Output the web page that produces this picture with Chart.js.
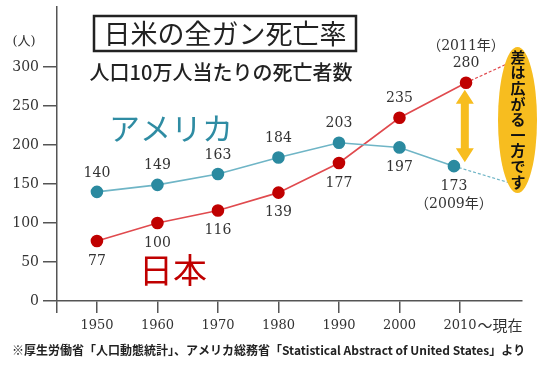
<!DOCTYPE html>
<html><head><meta charset="utf-8">
<script src="https://cdn.jsdelivr.net/npm/chart.js@4/dist/chart.umd.min.js"></script>
<style>html,body{margin:0;padding:0;background:#fff;}#wrap{width:548px;height:370px;position:relative;}</style>
</head><body><div id="wrap"><canvas id="c" width="548" height="370"></canvas></div>
<script>
// ---- data ----
const tickYears = [1950, 1960, 1970, 1980, 1990, 2000, 2010];
const yTickValues = [0, 50, 100, 150, 200, 250, 300];
const usYears = [1950, 1960, 1970, 1980, 1990, 2000, 2009];
const usValues = [140, 149, 163, 184, 203, 197, 173];
const usLabelSide = ['up', 'up', 'up', 'up', 'up', 'down', 'down'];
const jpYears = [1950, 1960, 1970, 1980, 1990, 2000, 2011];
const jpValues = [77, 100, 116, 139, 177, 235, 280];
const jpLabelSide = ['down', 'down', 'down', 'down', 'down', 'up', 'up'];
const usTrendYears = [2009, 2018];
const usTrendValues = [173, 152];
const jpTrendYears = [2011, 2018];
const jpTrendValues = [280, 305];
const usNote = '（2009年）';
const jpNote = '（2011年）';

const SERIF = '"DejaVu Serif", "Noto Sans CJK JP", serif';
const SANS = '"Noto Sans CJK JP", "Noto Sans", sans-serif';
const US_LINE = '#6fb5c6', US_PT = '#2b8aa0';
const JP_LINE = '#e04a4e', JP_PT = '#c00000';
const GOLD = '#f7bd1f';

const pts = (xs, ys) => xs.map((x, i) => ({ x: x, y: ys[i] }));

const annot = {
  id: 'annot',
  afterDatasetsDraw(chart) {
    const ctx = chart.ctx;
    const xs = chart.scales.x, ys = chart.scales.y;
    ctx.save();
    // data labels
    ctx.textAlign = 'center';
    ctx.textBaseline = 'middle';
    ctx.fillStyle = '#333';
    ctx.font = '14px ' + SERIF;
    const drawLabels = (dsIndex, vals, sides) => {
      const meta = chart.getDatasetMeta(dsIndex);
      meta.data.forEach((p, i) => {
        const dy = sides[i] === 'up' ? -19 : 20;
        ctx.fillText(String(vals[i]), p.x, p.y + dy);
      });
      return meta;
    };
    const mUS = drawLabels(0, usValues, usLabelSide);
    const mJP = drawLabels(1, jpValues, jpLabelSide);
    ctx.font = '14px ' + SERIF;
    const lu = mUS.data[mUS.data.length - 1];
    ctx.fillText(usNote, lu.x, lu.y + 38);
    const lj = mJP.data[mJP.data.length - 1];
    ctx.fillText(jpNote, lj.x, lj.y - 36);

    // x label suffix
    ctx.font = '13px ' + SERIF;
    const w2010 = ctx.measureText('2010').width;
    ctx.textAlign = 'left';
    ctx.fillStyle = '#333';
    ctx.font = '15px ' + SANS;
    ctx.fillText('〜現在', xs.getPixelForValue(2010) + w2010 / 2 + 1, 325);

    // y axis unit
    ctx.textAlign = 'center';
    ctx.font = '13px ' + SERIF;
    ctx.fillText('(人)', 24, 42);

    // ellipse
    ctx.fillStyle = GOLD;
    ctx.beginPath();
    ctx.ellipse(517.5, 120, 19.5, 73, 0, 0, Math.PI * 2);
    ctx.fill();
    ctx.fillStyle = '#111';
    ctx.font = 'bold 15px ' + SANS;
    const vt = '差は広がる一方です';
    for (let i = 0; i < vt.length; i++) ctx.fillText(vt[i], 518, 57 + i * 15.6);

    // double arrow
    const ax = xs.getPixelForValue(2010.8);
    const top = ys.getPixelForValue(271), bot = ys.getPixelForValue(178);
    const hw = 9, sw = 4, hl = 14;
    ctx.fillStyle = GOLD;
    ctx.beginPath();
    ctx.moveTo(ax, top);
    ctx.lineTo(ax + hw, top + hl);
    ctx.lineTo(ax + sw, top + hl);
    ctx.lineTo(ax + sw, bot - hl);
    ctx.lineTo(ax + hw, bot - hl);
    ctx.lineTo(ax, bot);
    ctx.lineTo(ax - hw, bot - hl);
    ctx.lineTo(ax - sw, bot - hl);
    ctx.lineTo(ax - sw, top + hl);
    ctx.lineTo(ax - hw, top + hl);
    ctx.closePath();
    ctx.fill();

    // title box
    ctx.strokeStyle = '#222';
    ctx.lineWidth = 2.5;
    ctx.strokeRect(94, 16, 262, 35);
    ctx.fillStyle = '#222';
    ctx.font = '27px ' + SANS;
    ctx.textAlign = 'center';
    ctx.fillText('日米の全ガン死亡率', 225, 34);
    ctx.font = '500 20px ' + SANS;
    ctx.fillText('人口10万人当たりの死亡者数', 221, 72);

    // series names
    ctx.fillStyle = '#2f8ca3';
    ctx.font = '31px ' + SANS;
    ctx.fillText('アメリカ', 171, 128);
    ctx.fillStyle = '#c00000';
    ctx.font = '34px ' + SANS;
    ctx.fillText('日本', 173, 270);

    // footnote
    ctx.fillStyle = '#222';
    ctx.font = 'bold 12px ' + SANS;
    ctx.textAlign = 'left';
    ctx.fillText('※厚生労働省「人口動態統計」、アメリカ総務省「Statistical Abstract of United States」より', 12, 350, 516);
    ctx.restore();
  }
};

new Chart(document.getElementById('c'), {
  type: 'line',
  data: {
    datasets: [
      { data: pts(usYears, usValues), borderColor: US_LINE, borderWidth: 1.6, pointBackgroundColor: US_PT, pointBorderColor: US_PT, pointRadius: 5.5, tension: 0 },
      { data: pts(jpYears, jpValues), borderColor: JP_LINE, borderWidth: 1.6, pointBackgroundColor: JP_PT, pointBorderColor: JP_PT, pointRadius: 5.5, tension: 0 },
      { data: pts(usTrendYears, usTrendValues), borderColor: US_LINE, borderWidth: 1.2, borderDash: [3, 2], pointRadius: 0 },
      { data: pts(jpTrendYears, jpTrendValues), borderColor: JP_LINE, borderWidth: 1.2, borderDash: [3, 2], pointRadius: 0 }
    ]
  },
  options: {
    responsive: false,
    animation: false,
    layout: { padding: { left: 0, right: 26, top: 3, bottom: 0 } },
    plugins: { legend: { display: false }, tooltip: { enabled: false } },
    scales: {
      x: {
        type: 'linear', min: 1943.4, max: 2020.25,
        afterBuildTicks: (a) => { a.ticks = [1943.4].concat(tickYears).map(v => ({ value: v })); },
        afterFit: (a) => { a.height = 69; a.paddingLeft = 0; a.paddingRight = 0; },
        ticks: { autoSkip: false, maxRotation: 0, padding: 5, color: '#333', font: { family: SERIF, size: 13 },
          callback: (v) => (tickYears.includes(v) ? String(v) : '') },
        grid: { drawOnChartArea: false, drawTicks: true, tickLength: 12, color: '#555', lineWidth: 1.5 },
        border: { display: true, color: '#555', width: 1.5 }
      },
      y: {
        min: 0, max: 377,
        afterBuildTicks: (a) => { a.ticks = yTickValues.map(v => ({ value: v })); },
        afterFit: (a) => { a.width = 57; a.paddingTop = 0; a.paddingBottom = 0; },
        ticks: { padding: 4, color: '#333', font: { family: SERIF, size: 14 } },
        grid: { drawOnChartArea: false, drawTicks: true, tickLength: 14, color: '#555', lineWidth: 1.5 },
        border: { display: true, color: '#555', width: 1.5 }
      }
    }
  },
  plugins: [annot]
});
</script></body></html>
